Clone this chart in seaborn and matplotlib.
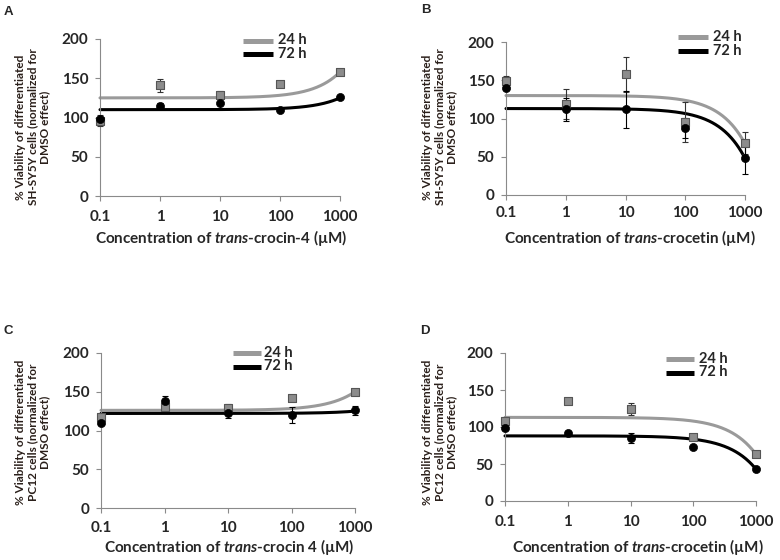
import numpy as np
import pandas as pd
import matplotlib
matplotlib.use("Agg")
import matplotlib.pyplot as plt
import seaborn as sns
from matplotlib.lines import Line2D

sns.set_style("white")
plt.rcParams['font.family'] = ['Lato', 'DejaVu Sans']
plt.rcParams['font.weight'] = 'bold'
plt.rcParams['mathtext.fontset'] = 'custom'
plt.rcParams['mathtext.it'] = 'Lato:italic:bold'
plt.rcParams['mathtext.rm'] = 'Lato:bold'

# ---- data ----
conc = [0.1, 1, 10, 100, 1000]
xticklabels = ["0.1", "1", "10", "100", "1000"]
yticks = [0, 50, 100, 150, 200]
series = ["24 h", "72 h"]

# Panel A: SH-SY5Y, trans-crocin-4
a_24 = [96, 141, 129, 143, 158]
a_24_err = [7, 8, 5, 2, 2]
a_72 = [98, 115, 118, 110, 126]
a_72_err = [3, 3, 6, 2, 2]
a_fit_24 = [125, 0.033]   # intercept, slope (linear fit)
a_fit_72 = [110, 0.015]

# Panel B: SH-SY5Y, trans-crocetin
b_24 = [149, 119, 158, 95, 68]
b_24_err = [7, 20, 23, 26, 14]
b_72 = [140, 112, 112, 88, 49]
b_72_err = [3, 15, 24, 13, 21]
b_fit_24 = [130, -0.063]
b_fit_72 = [113, -0.065]

# Panel C: PC12, trans-crocin 4
c_24 = [117, 130, 129, 142, 150]
c_24_err = [3, 3, 5, 2, 2]
c_72 = [110, 138, 122, 120, 126]
c_72_err = [3, 6, 6, 10, 6]
c_fit_24 = [126, 0.024]
c_fit_72 = [122, 0.003]

# Panel D: PC12, trans-crocetin
d_24 = [108, 135, 124, 87, 63]
d_24_err = [2, 4, 8, 2, 4]
d_72 = [99, 92, 85, 73, 43]
d_72_err = [3, 2, 7, 2, 2]
d_fit_24 = [113, -0.050]
d_fit_72 = [88, -0.045]

panels = [
    dict(letter="A", v24=a_24, e24=a_24_err, v72=a_72, e72=a_72_err, f24=a_fit_24, f72=a_fit_72,
         cell="SH-SY5Y", comp="crocin-4",
         ax=(100, 340, 39, 196), letter_xy=(4, 12), ylab_xy=(33, 127),
         tick_y=217, xlab_xy=(221, 238), leg=(243, 273, 278, 40.5, 53.5)),
    dict(letter="B", v24=b_24, e24=b_24_err, v72=b_72, e72=b_72_err, f24=b_fit_24, f72=b_fit_72,
         cell="SH-SY5Y", comp="crocetin",
         ax=(506, 745, 42, 195), letter_xy=(421, 10), ylab_xy=(440, 127),
         tick_y=213, xlab_xy=(630, 238), leg=(678, 708, 713, 37, 51)),
    dict(letter="C", v24=c_24, e24=c_24_err, v72=c_72, e72=c_72_err, f24=c_fit_24, f72=c_fit_72,
         cell="PC12", comp="crocin 4",
         ax=(101, 355, 353, 508), letter_xy=(4, 331), ylab_xy=(33, 432),
         tick_y=528, xlab_xy=(229, 547), leg=(233, 261, 264, 353, 366.5)),
    dict(letter="D", v24=d_24, e24=d_24_err, v72=d_72, e72=d_72_err, f24=d_fit_24, f72=d_fit_72,
         cell="PC12", comp="crocetin",
         ax=(505, 756, 353, 501), letter_xy=(420, 331), ylab_xy=(440, 432),
         tick_y=522, xlab_xy=(638, 547), leg=(666, 694, 699, 359, 372.5)),
]

W, H = 780, 560
fig = plt.figure(figsize=(7.8, 5.6), dpi=100)

GRAY_LINE = "#9a9a9a"
GRAY_MARK = "#8c8c8c"
xgrid = np.logspace(-1, 3, 300)

def fx(px):
    return px / W

def fy(py):
    return (H - py) / H

for p in panels:
    l, r, t, b = p["ax"]
    ax = fig.add_axes([fx(l), fy(b), (r - l) / W, (b - t) / H])
    ax.set_xscale("log")

    # fitted curves
    for fit, col in [(p["f24"], GRAY_LINE), (p["f72"], "black")]:
        yy = fit[0] + fit[1] * xgrid
        sns.lineplot(x=xgrid, y=yy, ax=ax, color=col, linewidth=2.2, zorder=2)

    # error bars
    ax.errorbar(conc, p["v24"], yerr=p["e24"], fmt="none", ecolor="#333333",
                elinewidth=0.8, capsize=2.5, capthick=0.8, zorder=3, clip_on=False)
    ax.errorbar(conc, p["v72"], yerr=p["e72"], fmt="none", ecolor="black",
                elinewidth=0.8, capsize=2.5, capthick=0.8, zorder=3, clip_on=False)

    # points
    df = pd.DataFrame({"conc": conc * 2, "val": p["v24"] + p["v72"],
                       "time": [series[0]] * 5 + [series[1]] * 5})
    sns.scatterplot(data=df[df.time == series[0]], x="conc", y="val", ax=ax,
                    marker="s", s=36, color=GRAY_MARK, edgecolor="#555555",
                    linewidth=0.8, zorder=4, legend=False)
    sns.scatterplot(data=df[df.time == series[1]], x="conc", y="val", ax=ax,
                    marker="o", s=34, color="black", edgecolor="black",
                    linewidth=0.5, zorder=5, legend=False)

    ax.set_xlim(0.1, 1000)
    ax.set_ylim(0, 200)
    ax.set_yticks(yticks)
    ax.set_yticklabels([str(v) for v in yticks], fontsize=11, fontweight="bold")
    ax.set_xticks(conc)
    ax.set_xticklabels([])
    ax.minorticks_off()
    ax.set_xlabel("")
    ax.set_ylabel("")
    for s in ["top", "right"]:
        ax.spines[s].set_visible(False)
    for s in ["left", "bottom"]:
        ax.spines[s].set_color("#8a8a8a")
        ax.spines[s].set_linewidth(0.8)
    ax.tick_params(axis="both", which="major", length=3.5, width=0.8,
                   color="#8a8a8a", direction="out", bottom=True, left=True)
    ax.tick_params(axis="y", pad=5)
    for c in ax.collections:
        c.set_clip_on(False)
    for ln in ax.lines:
        ln.set_clip_on(False)

    # x tick labels placed below
    for xv, lab in zip(conc, xticklabels):
        xpix = ax.transData.transform((xv, 0))[0]
        fig.text(xpix / fig.bbox.width, fy(p["tick_y"]), lab, ha="center",
                 va="center", fontsize=11, fontweight="bold")

    # x label
    fig.text(fx(p["xlab_xy"][0]), fy(p["xlab_xy"][1]),
             "Concentration of $\\mathit{trans}$-" + p["comp"] + " (µM)",
             ha="center", va="center", fontsize=11, fontweight="bold")

    # y label
    fig.text(fx(p["ylab_xy"][0]), fy(p["ylab_xy"][1]),
             "% Viability of differentiated\n" + p["cell"] + " cells (normalized for\nDMSO effect)",
             ha="center", va="center", rotation=90, fontsize=8.5, fontweight="bold",
             multialignment="center", color="#2a1f1a", linespacing=1.12)

    # panel letter
    fig.text(fx(p["letter_xy"][0]), fy(p["letter_xy"][1]), p["letter"],
             ha="left", va="center", fontsize=9.5, fontweight="bold",
             family="Liberation Sans")

    # legend (drawn as figure lines + text)
    x0, x1, xt, y24, y72 = p["leg"]
    for yy, col, lab in [(y24, GRAY_LINE, series[0]), (y72, "black", series[1])]:
        fig.add_artist(Line2D([fx(x0), fx(x1)], [fy(yy), fy(yy)], color=col,
                              linewidth=3.6, transform=fig.transFigure,
                              solid_capstyle="butt"))
        fig.text(fx(xt), fy(yy), lab, ha="left", va="center",
                 fontsize=10.5, fontweight="bold")

fig.savefig("out.png", dpi=100)
